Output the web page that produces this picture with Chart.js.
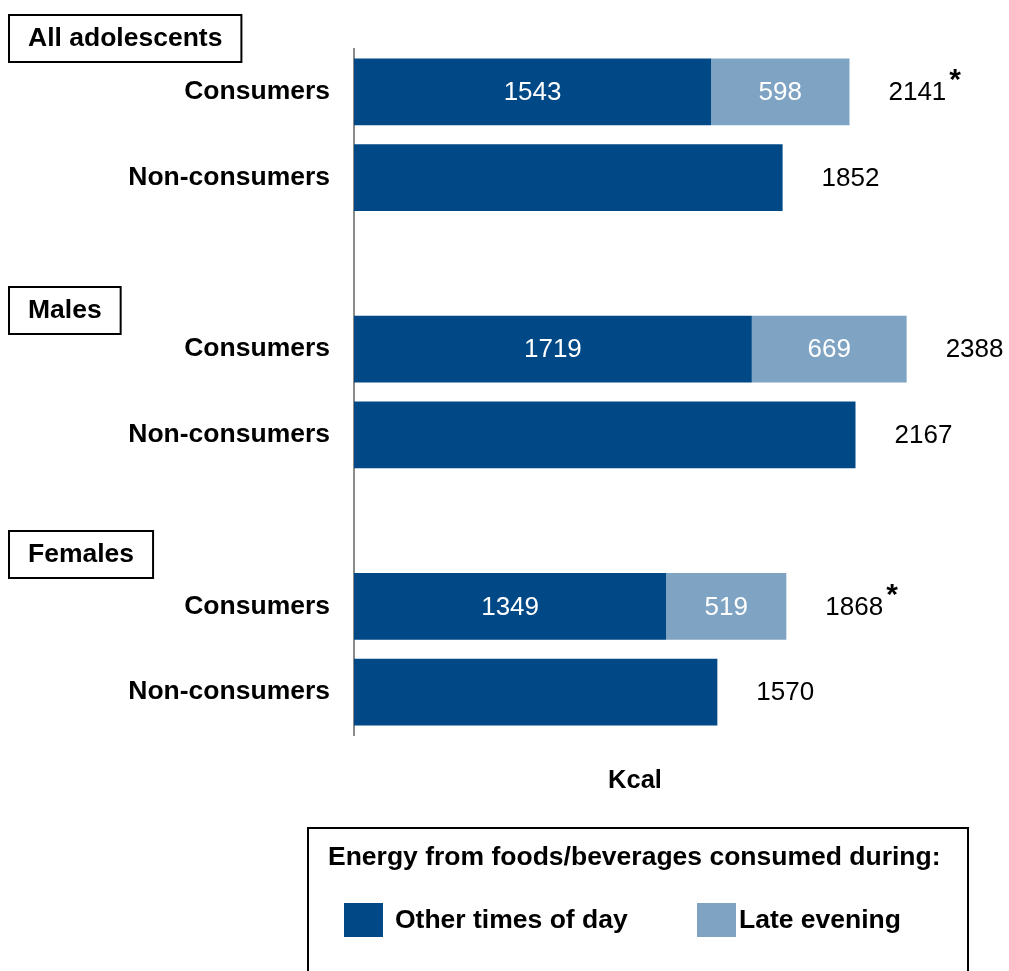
<!DOCTYPE html>
<html>
<head>
<meta charset="utf-8">
<title>Energy intake, late evening consumers vs non-consumers</title>
<script src="https://cdn.jsdelivr.net/npm/chart.js@4"></script>
<style>
  html, body { margin:0; padding:0; background:#fff; }
  canvas { display:block; }
</style>
</head>
<body>
<canvas id="kcalChart" width="1009" height="971"></canvas>
<script>
// rows of the chart, '' = spacer slot between groups
const rowLabels = ['Consumers','Non-consumers','','Consumers','Non-consumers','','Consumers','Non-consumers'];
const groupNames = ['All adolescents','Males','Females'];
const otherTimes = [1543, 1852, null, 1719, 2167, null, 1349, 1570];
const lateEvening = [598, null, null, 669, null, null, 519, null];
const significant = [true, false, false, false, false, false, true, false];
const seriesNames = ['Other times of day','Late evening'];
const axisTitle = 'Kcal';
const legendTitle = 'Energy from foods/beverages consumed during:';

const DARK = '#014886';
const LIGHT = '#7fa3c3';
const FONT = '"Liberation Sans", Arial, Helvetica, sans-serif';

// boxes with the group names, labels inside bars, totals, Kcal and legend
const annotate = {
  id:'annotate',
  afterDatasetsDraw(chart){
    const ctx = chart.ctx;
    const x = chart.scales.x, y = chart.scales.y;
    ctx.save();

    // values inside segments
    ctx.font = '26px ' + FONT;
    ctx.textAlign = 'center';
    ctx.textBaseline = 'middle';
    ctx.fillStyle = '#fff';
    chart.data.datasets.forEach((ds, di)=>{
      const meta = chart.getDatasetMeta(di);
      meta.data.forEach((bar, i)=>{
        const v = ds.data[i];
        if(v == null) return;
        if(di === 0 && lateEvening[i] == null) return; // single bars only get the total
        ctx.fillText(String(v), (bar.base + bar.x)/2, bar.y + 1);
      });
    });

    // totals at the right
    ctx.fillStyle = '#000';
    ctx.textAlign = 'left';
    rowLabels.forEach((lab, i)=>{
      if(otherTimes[i] == null) return;
      const total = otherTimes[i] + (lateEvening[i] || 0);
      const px = x.getPixelForValue(total) + 39;
      const py = y.getPixelForValue(i);
      ctx.font = '26px ' + FONT;
      ctx.fillText(String(total), px, py + 1);
      if(significant[i]){
        const w = ctx.measureText(String(total)).width;
        ctx.font = 'bold 30px ' + FONT;
        ctx.fillText('*', px + w + 3, py - 11);
      }
    });

    // group name boxes
    const boxTops = [15, 287, 531];
    ctx.font = 'bold 26.5px ' + FONT;
    ctx.lineWidth = 2;
    ctx.strokeStyle = '#000';
    groupNames.forEach((g, gi)=>{
      const w = ctx.measureText(g).width + 38;
      ctx.strokeRect(9, boxTops[gi], w, 47);
      ctx.fillText(g, 28, boxTops[gi] + 24);
    });

    // axis title
    ctx.font = 'bold 25.5px ' + FONT;
    ctx.textAlign = 'center';
    ctx.fillText(axisTitle, 635, 781);

    // legend box
    ctx.font = 'bold 26.5px ' + FONT;
    ctx.strokeRect(308, 828, 660, 170);
    ctx.textAlign = 'left';
    ctx.fillText(legendTitle, 328, 858);
    const items = [[344, 395], [697, 739]];
    chart.data.datasets.forEach((ds, di)=>{
      const [sx, tx] = items[di];
      ctx.fillStyle = ds.backgroundColor;
      ctx.fillRect(sx, 903, 39, 34);
      ctx.fillStyle = '#000';
      ctx.fillText(ds.label, tx, 921);
    });
    ctx.restore();
  }
};

new Chart(document.getElementById('kcalChart').getContext('2d'), {
  type:'bar',
  data:{
    labels: rowLabels,
    datasets:[
      { label: seriesNames[0], data: otherTimes, backgroundColor: DARK },
      { label: seriesNames[1], data: lateEvening, backgroundColor: LIGHT }
    ]
  },
  options:{
    responsive:false,
    animation:false,
    indexAxis:'y',
    layout:{ padding:{ top:49, bottom:236, right:7, left:0 } },
    datasets:{ bar:{ categoryPercentage:1, barPercentage:0.78, borderWidth:0 } },
    scales:{
      x:{ display:false, stacked:true, min:0, max:2800 },
      y:{
        stacked:true,
        grid:{ display:false, drawTicks:false },
        border:{ display:true, color:'#8a8a8a', width:2 },
        ticks:{ color:'#000', padding:24, font:{ family:FONT, size:26.5, weight:'bold' } },
        afterFit(scale){ scale.width = 354; }
      }
    },
    plugins:{ legend:{ display:false }, tooltip:{ enabled:false } }
  },
  plugins:[annotate]
});
</script>
</body>
</html>
